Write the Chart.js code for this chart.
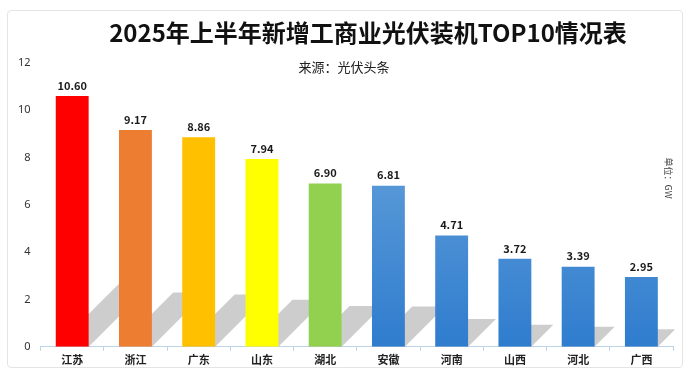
<!DOCTYPE html>
<html>
<head>
<meta charset="utf-8">
<script src="https://cdn.jsdelivr.net/npm/chart.js@4"></script>
<style>
  body { margin:0; background:#fff; }
  #wrap { position:relative; width:691px; height:376px; }
  #card { position:absolute; left:7px; top:10px; width:676px; height:358px;
          border:1px solid #e4e4e4; border-radius:4px; box-sizing:border-box; }
  canvas { position:absolute; left:0; top:0; }
</style>
</head>
<body>
<div id="wrap">
  <div id="card"></div>
  <canvas id="chart" width="691" height="376"></canvas>
</div>
<script>
const provinces = ["江苏","浙江","广东","山东","湖北","安徽","河南","山西","河北","广西"];
const capacity = [10.60, 9.17, 8.86, 7.94, 6.90, 6.81, 4.71, 3.72, 3.39, 2.95];
const barColors = ["#ff0000","#ed7d31","#ffc000","#ffff00","#92d050",null,null,null,null,null];
const yTicks = [0, 2, 4, 6, 8, 10, 12];

const titleText = "2025年上半年新增工商业光伏装机TOP10情况表";
const sourceText = "来源：光伏头条";
const unitText = "单位：GW";

const FONT = "'Noto Sans CJK SC', 'Noto Sans', sans-serif";

function barFill(ctx) {
  const c = barColors[ctx.dataIndex];
  if (c) return c;
  const area = ctx.chart.chartArea;
  if (!area) return "#4a8fd6";
  const g = ctx.chart.ctx.createLinearGradient(0, area.top + 100, 0, area.bottom);
  g.addColorStop(0, "#5b9bd8");
  g.addColorStop(1, "#2f7cce");
  return g;
}

// grey slanted shadows behind each bar (45 degree skew)
const shadowPlugin = {
  id: "shadows",
  beforeDatasetsDraw(chart) {
    const ctx = chart.ctx;
    const meta = chart.getDatasetMeta(0);
    ctx.save();
    ctx.fillStyle = "rgba(200,200,200,0.9)";
    meta.data.forEach(bar => {
      const h = bar.base - bar.y;
      const half = bar.width / 2;
      const d = h * 0.25;
      ctx.beginPath();
      ctx.moveTo(bar.x - half, bar.base);
      ctx.lineTo(bar.x + half, bar.base);
      ctx.lineTo(bar.x + half + d, bar.base - d);
      ctx.lineTo(bar.x - half + d, bar.base - d);
      ctx.closePath();
      ctx.fill();
    });
    ctx.restore();
  }
};

const textPlugin = {
  id: "texts",
  afterDatasetsDraw(chart) {
    const ctx = chart.ctx;
    const meta = chart.getDatasetMeta(0);
    ctx.save();
    // value labels
    ctx.fillStyle = "#1a1a1a";
    ctx.font = "bold 11px " + FONT;
    ctx.textAlign = "center";
    ctx.textBaseline = "bottom";
    meta.data.forEach((bar, i) => {
      ctx.fillText(capacity[i].toFixed(2), bar.x, bar.y - 5);
    });
    // title + source
    ctx.fillStyle = "#111";
    ctx.font = "bold 24px " + FONT;
    ctx.textBaseline = "middle";
    ctx.fillText(titleText, 368, 33);
    ctx.font = "13px " + FONT;
    ctx.fillStyle = "#222";
    ctx.fillText(sourceText, 344, 67);
    // unit, rotated
    ctx.translate(668, 178);
    ctx.rotate(Math.PI / 2);
    ctx.font = "9px " + FONT;
    ctx.fillStyle = "#444";
    ctx.fillText(unitText, 0, 0);
    ctx.restore();
  }
};

new Chart(document.getElementById("chart"), {
  type: "bar",
  data: {
    labels: provinces,
    datasets: [{
      data: capacity,
      backgroundColor: barFill,
      barPercentage: 0.52,
      categoryPercentage: 1
    }]
  },
  options: {
    responsive: false,
    animation: false,
    layout: { padding: { left: 16, right: 18, top: 63, bottom: 8 } },
    plugins: { legend: { display: false }, tooltip: { enabled: false } },
    scales: {
      x: {
        grid: { display: true, drawOnChartArea: false, tickLength: 4, color: "#bcd3ea" },
        border: { color: "#bcd3ea" },
        ticks: { color: "#222", font: { family: FONT, size: 11, weight: "bold" }, padding: 2 }
      },
      y: {
        min: 0, max: 12,
        afterBuildTicks: axis => { axis.ticks = yTicks.map(v => ({ value: v })); },
        grid: { display: false },
        border: { display: false },
        ticks: { color: "#333", font: { family: "'Noto Sans', sans-serif", size: 11 }, padding: 2 }
      }
    }
  },
  plugins: [shadowPlugin, textPlugin]
});
</script>
</body>
</html>
